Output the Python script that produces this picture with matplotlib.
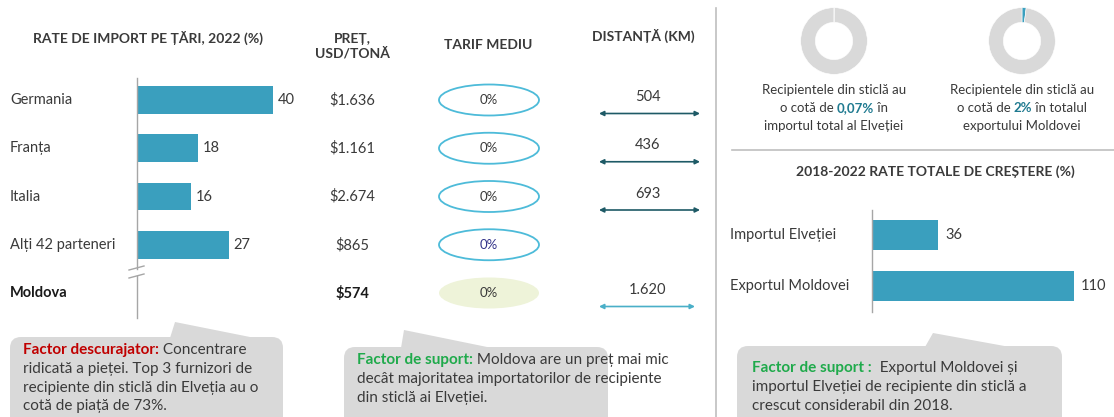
import matplotlib
matplotlib.use('Agg')
import matplotlib.pyplot as plt
import matplotlib.transforms as mtransforms
from matplotlib.patches import Ellipse, FancyBboxPatch, Polygon

plt.rcParams['font.family'] = ['Lato', 'DejaVu Sans']

# ---- data ----
countries = ['Germania', 'Franța', 'Italia', 'Alți 42 parteneri', 'Moldova']
import_share = [40, 18, 16, 27]          # Moldova has no bar
prices = ['$1.636', '$1.161', '$2.674', '$865', '$574']
tariffs = ['0%', '0%', '0%', '0%', '0%']
distances = ['504', '436', '693', '', '1.620']

growth_labels = ['Importul Elveției', 'Exportul Moldovei']
growth_values = [36, 110]

donut_shares = [0.07, 2]
donut_lines = [
    [[('Recipientele din sticlă au', False)],
     [('o cotă de ', False), ('0,07%', True), (' în', False)],
     [('importul total al Elveției', False)]],
    [[('Recipientele din sticlă au', False)],
     [('o cotă de ', False), ('2%', True), (' în totalul', False)],
     [('exportului Moldovei', False)]],
]

callouts = [
    ('Factor descurajator:', '#C00000',
     [' Concentrare', 'ridicată a pieței. Top 3 furnizori de',
      'recipiente din sticlă din Elveția au o', 'cotă de piață de 73%.']),
    ('Factor de suport:', '#1FAA4B',
     [' Moldova are un preț mai mic', 'decât majoritatea importatorilor de recipiente',
      'din sticlă ai Elveției.']),
    ('Factor de suport :', '#1FAA4B',
     ['  Exportul Moldovei și', 'importul Elveției de recipiente din sticlă a',
      'crescut considerabil din 2018.']),
]

# ---- styles ----
W, H = 1114, 417
BAR = '#3A9FBE'
TXT = '#3A3A3A'
GREY_LINE = '#A6A6A6'
BOX = '#D9D9D9'
ROW = 48.25  # pixels per row in the left table
FS = 10.5    # body text
FH = 10      # headers

fig = plt.figure(figsize=(W / 100, H / 100), dpi=100)


def px_axes(x0, y0, x1, y1, **kw):
    return fig.add_axes([x0 / W, 1 - y1 / H, (x1 - x0) / W, (y1 - y0) / H], **kw)


# left bar chart
axb = px_axes(137, 100 - ROW / 2, 307, 100 + 4.5 * ROW)
axb.barh(range(len(import_share)), import_share, height=0.58, color=BAR)
for i, v in enumerate(import_share):
    axb.text(v + 1.3, i, str(v), va='center', ha='left', fontsize=FS, color=TXT)
axb.set_xlim(0, 50)
axb.set_ylim(4.5, -0.5)
axb.axis('off')

# right bar chart
axg = px_axes(872, 209.5, 1114, 311.5)
axg.barh(range(len(growth_values)), growth_values, height=0.57, color=BAR)
for i, v in enumerate(growth_values):
    axg.text(v + 4, i, str(v), va='center', ha='left', fontsize=FS, color=TXT)
axg.set_xlim(0, 132)
axg.set_ylim(1.5, -0.5)
axg.axis('off')
axg.plot([0, 0], [-0.5, 1.5], color=GREY_LINE, lw=1, clip_on=False)
for i, lab in enumerate(growth_labels):
    axg.text(-142 / 1.83, i, lab, va='center', ha='left', fontsize=FS, color=TXT)

# donuts
for k, (cx, share) in enumerate(zip([834, 1022], donut_shares)):
    axd = px_axes(cx - 34, 41 - 34, cx + 34, 41 + 34)
    axd.pie([share, 100 - share], colors=[BAR, BOX], startangle=90, counterclock=False,
            radius=1, wedgeprops=dict(width=0.44, edgecolor='white', linewidth=0.4))
    axd.set_xlim(-1.02, 1.02)
    axd.set_ylim(-1.02, 1.02)
    axd.set_aspect('equal')
    axd.axis('off')

# overlay in pixel coordinates
ov = fig.add_axes([0, 0, 1, 1], zorder=5)
ov.set_xlim(0, W)
ov.set_ylim(H, 0)
ov.axis('off')
ov.patch.set_alpha(0)
rowt = mtransforms.blended_transform_factory(ov.transData, axb.transData)
renderer = fig.canvas.get_renderer()


def rich(x, y, parts, size, ha='left', transform=None):
    """parts: list of (text, color, bold). Draw them side by side."""
    texts = []
    for s, c, b in parts:
        if not texts:
            t = ov.text(x, y, s, color=c, fontweight='bold' if b else 'normal',
                        fontsize=size, va='center', ha='left',
                        transform=transform or ov.transData)
        else:
            t = ov.annotate(s, xy=(1, 0), xycoords=texts[-1], color=c,
                            fontweight='bold' if b else 'normal',
                            fontsize=size, va='bottom', ha='left')
        texts.append(t)
    if ha == 'center':
        total = sum(t.get_window_extent(renderer).width for t in texts)
        texts[0].set_x(x - total / 2)
    return texts


# headers
ov.text(148, 38, 'RATE DE IMPORT PE ȚĂRI, 2022 (%)', ha='center', va='center',
        fontsize=FH, fontweight='bold', color=TXT)
ov.text(352, 46, 'PREȚ,\nUSD/TONĂ', ha='center', va='center', fontsize=FH,
        fontweight='bold', color=TXT, linespacing=1.2)
ov.text(488, 45, 'TARIF MEDIU', ha='center', va='center', fontsize=FH,
        fontweight='bold', color=TXT)
ov.text(643, 36, 'DISTANȚĂ (KM)', ha='center', va='center', fontsize=FH,
        fontweight='bold', color=TXT)
ov.text(935, 172, '2018-2022 RATE TOTALE DE CREȘTERE (%)', ha='center', va='center',
        fontsize=FH, fontweight='bold', color=TXT)

# table rows
for i, name in enumerate(countries):
    last = i == len(countries) - 1
    w = 'bold' if last else 'normal'
    ov.text(10, i, name, transform=rowt, va='center', ha='left', fontsize=FS,
            color='#1A1A1A' if last else TXT, fontweight=w)
    ov.text(352, i, prices[i], transform=rowt, va='center', ha='center', fontsize=FS,
            color='#1A1A1A' if last else TXT, fontweight=w)
    if last:
        e = Ellipse((489, i), 100, 31 / ROW, transform=rowt, fc='#EEF3D9', ec='none')
    else:
        e = Ellipse((489, i), 100, 31 / ROW, transform=rowt, fc='none', ec='#4DBBD9', lw=1.3)
    ov.add_patch(e)
    ov.text(489, i, tariffs[i], transform=rowt, va='center', ha='center', fontsize=9.5,
            color='#33338A' if i == 3 else TXT)
    if distances[i]:
        ov.text(648, i - 3 / ROW, distances[i], transform=rowt, va='center', ha='center',
                fontsize=FS, color=TXT)
        ov.annotate('', xy=(695 if last else 700, i + 13.5 / ROW), xycoords=rowt,
                    xytext=(599, i + 13.5 / ROW), textcoords=rowt,
                    arrowprops=dict(arrowstyle='<|-|>', color='#4AAFC8' if last else '#1E5A66',
                                    lw=1.2, mutation_scale=7, shrinkA=0, shrinkB=0))

# left axis with a break mark
ov.plot([136.5, 136.5], [78, 269], color=GREY_LINE, lw=1)
ov.plot([136.5, 136.5], [276, 318], color=GREY_LINE, lw=1)
ov.plot([129, 144], [270, 266], color=GREY_LINE, lw=1)
ov.plot([129, 144], [278, 274], color=GREY_LINE, lw=1)

# separators
ov.plot([716, 716], [8, H], color='#BFBFBF', lw=1.2)
ov.plot([732, W], [150, 150], color='#BFBFBF', lw=1.2)

# donut captions
for cx, lines in zip([834, 1022], donut_lines):
    for j, line in enumerate(lines):
        parts = [(s, '#1F7A90' if b else TXT, b) for s, b in line]
        rich(cx, 90 + 18 * j, parts, 9.5, ha='center')

# callout boxes
boxes = [(10, 337, 283), (344, 347, 608), (737, 346, 1062)]
tails = [[(170, 338), (175, 322), (255, 338)],
         [(401, 348), (404, 330), (492, 348)],
         [(925, 347), (933, 333), (1010, 347)]]
text_pos = [(23, 350), (357, 360), (752, 368)]
for (x0, y0, x1), tail, (tx, ty), (head, hcol, lines) in zip(boxes, tails, text_pos, callouts):
    ov.add_patch(FancyBboxPatch((x0, y0), x1 - x0, 140,
                                boxstyle='round,pad=0,rounding_size=11', fc=BOX, ec='none'))
    ov.add_patch(Polygon(tail, closed=True, fc=BOX, ec='none'))
    rich(tx, ty, [(head, hcol, True), (lines[0], TXT, False)], 11)
    for j, line in enumerate(lines[1:]):
        ov.text(tx, ty + 18.8 * (j + 1), line, va='center', ha='left', fontsize=11, color=TXT)

fig.savefig('out.png', dpi=100)
